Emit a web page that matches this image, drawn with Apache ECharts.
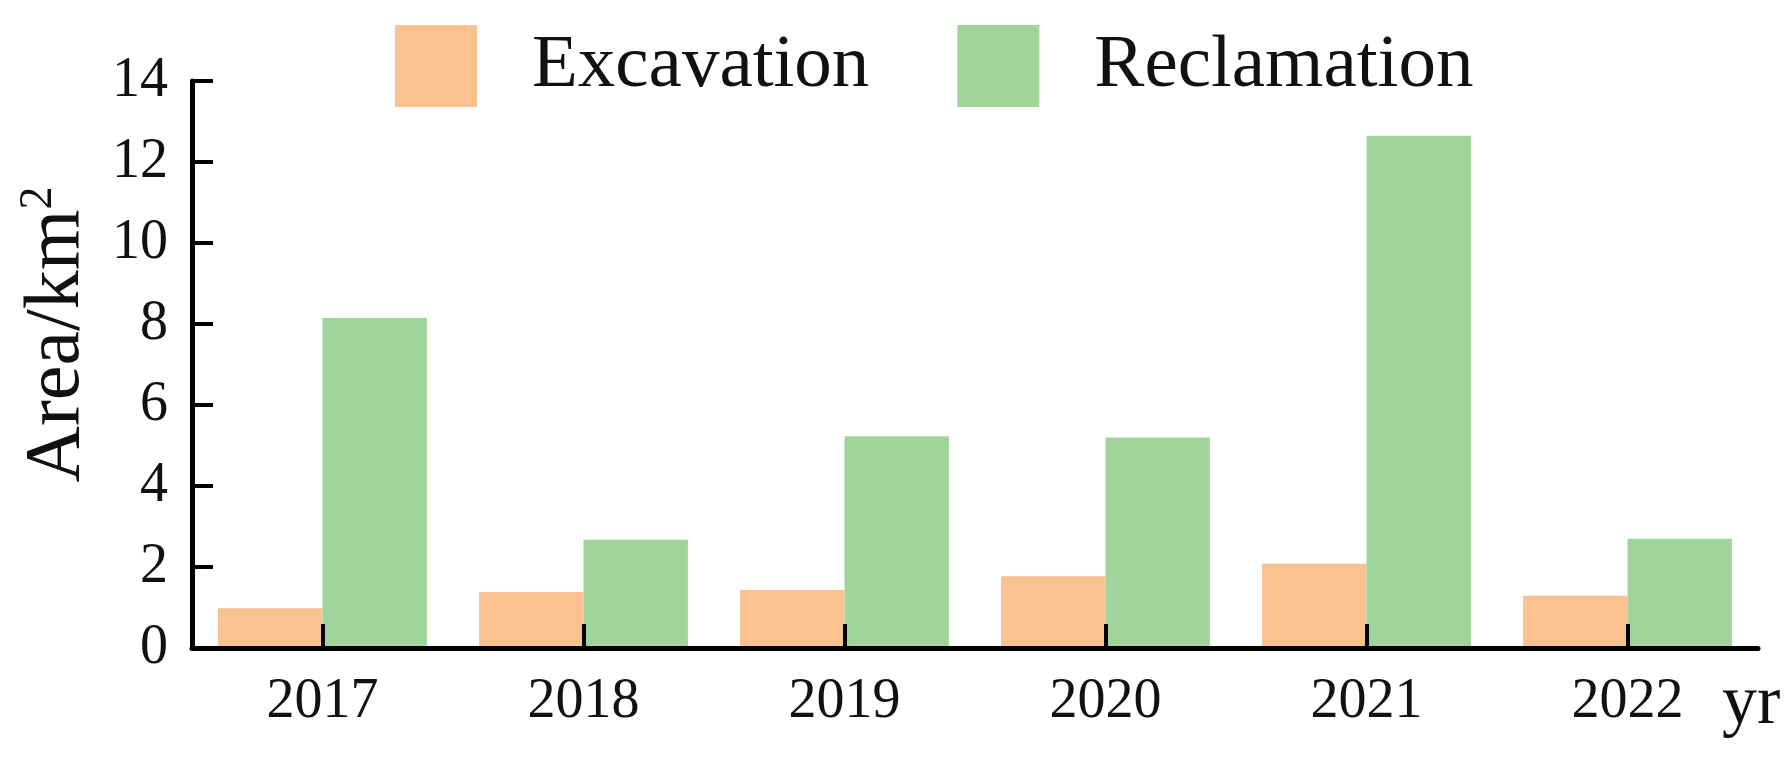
<!DOCTYPE html>
<html>
<head>
<meta charset="utf-8">
<script src="https://cdn.jsdelivr.net/npm/echarts@6/dist/echarts.min.js"></script>
<style>
html,body{margin:0;padding:0;background:#fff;}
#chart{width:1790px;height:763px;}
</style>
</head>
<body>
<div id="chart"></div>
<script>
const categories = ['2017','2018','2019','2020','2021','2022'];
const excavation = [0.98, 1.38, 1.43, 1.77, 2.08, 1.29];
const reclamation = [8.15, 2.67, 5.23, 5.2, 12.65, 2.7];
const seriesNames = ['Excavation', 'Reclamation'];
const yTicks = {min: 0, max: 14, interval: 2};

const FONT = '"Liberation Serif", "Times New Roman", serif';
const chart = echarts.init(document.getElementById('chart'));
chart.setOption({
  backgroundColor: '#ffffff',
  animation: false,
  legend: {
    left: 390, top: 20,
    itemWidth: 82, itemHeight: 82, itemGap: 88,
    icon: 'rect',
    textStyle: {fontFamily: FONT, fontSize: 75, color: '#111', padding: [0,0,0,50]},
    data: seriesNames
  },
  grid: {left: 192, top: 81, right: 32, bottom: 115, containLabel: false},
  xAxis: {
    type: 'category',
    data: categories,
    z: 10,
    name: 'yr',
    nameLocation: 'end',
    nameGap: -36,
    nameTextStyle: {fontFamily: FONT, fontSize: 70, color: '#111', verticalAlign: 'top', padding: [22,0,0,0]},
    axisLine: {lineStyle: {color: '#000', width: 5}},
    axisTick: {show: true, alignWithLabel: true, inside: true, length: 24, lineStyle: {color: '#000', width: 4}},
    axisLabel: {fontFamily: FONT, fontSize: 56, color: '#111', margin: 26}
  },
  yAxis: {
    type: 'value',
    z: 10,
    min: yTicks.min, max: yTicks.max, interval: yTicks.interval,
    name: '{a|Area/km}{s|2}',
    nameLocation: 'middle',
    nameGap: 92,
    nameRotate: 90,
    nameTextStyle: {
      fontFamily: FONT, color: '#111',
      padding: [0, 0, 0, 60],
      rich: {
        a: {fontFamily: FONT, fontSize: 78, lineHeight: 84, color: '#111'},
        s: {fontFamily: FONT, fontSize: 46, lineHeight: 84, verticalAlign: 'top', color: '#111'}
      }
    },
    splitLine: {show: false},
    axisLine: {show: true, lineStyle: {color: '#000', width: 5}},
    axisTick: {show: true, inside: true, length: 21, lineStyle: {color: '#000', width: 4}},
    axisLabel: {fontFamily: FONT, fontSize: 56, color: '#111', margin: 24}
  },
  series: [
    {name: seriesNames[0], type: 'bar', data: excavation, barGap: '0%', barCategoryGap: '20%', itemStyle: {color: '#F9C28F'}},
    {name: seriesNames[1], type: 'bar', data: reclamation, barGap: '0%', barCategoryGap: '20%', itemStyle: {color: '#9FD59B'}}
  ]
});
</script>
</body>
</html>
